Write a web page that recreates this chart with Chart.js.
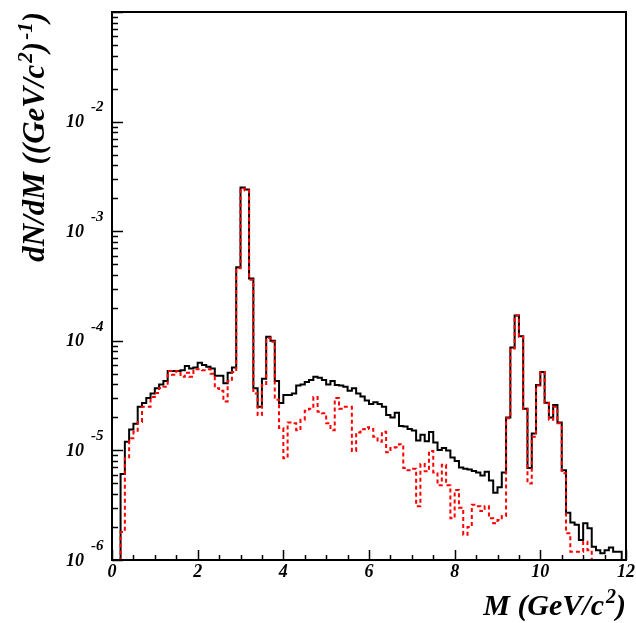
<!DOCTYPE html>
<html>
<head>
<meta charset="utf-8">
<script src="https://cdn.jsdelivr.net/npm/chart.js@4"></script>
<style>
  html, body { margin: 0; padding: 0; background: #fff; }
  #mass-chart { display: block; }
</style>
</head>
<body>
<canvas id="mass-chart" width="636" height="623"></canvas>
<script>
// histogram binning (GeV/c^2)
const M_MIN = 0;
const M_MAX = 12;
const BIN_WIDTH = 0.1;

// axis ranges and labels
const Y_MIN = 1e-6;
const Y_MAX = 1e-1;
const X_TICK_LABELS = [0, 2, 4, 6, 8, 10, 12];
const Y_DECADES = [-6, -5, -4, -3, -2];

// dN/dM per bin, solid black histogram
const totalCounts = [
  0, 0, 6.1e-6, 1.2e-5, 1.55e-5, 1.75e-5, 2.5e-5, 2.7e-5, 3.0e-5, 3.3e-5,
  3.7e-5, 4.0e-5, 4.3e-5, 5.3e-5, 5.3e-5, 5.3e-5, 5.4e-5, 5.9e-5, 5.6e-5, 5.7e-5,
  6.3e-5, 6.0e-5, 5.8e-5, 5.6e-5, 4.8e-5, 4.8e-5, 4.1e-5, 5.1e-5, 5.7e-5, 4.7e-4,
  2.5e-3, 2.4e-3, 3.7e-4, 3.7e-5, 2.5e-5, 4.5e-5, 1.09e-4, 1.0e-4, 4.3e-5, 2.7e-5,
  3.2e-5, 3.2e-5, 3.3e-5, 3.9e-5, 4.0e-5, 4.2e-5, 4.4e-5, 4.7e-5, 4.6e-5, 4.4e-5,
  4.0e-5, 4.3e-5, 3.95e-5, 3.9e-5, 3.8e-5, 3.5e-5, 3.7e-5, 3.3e-5, 3.1e-5, 2.85e-5,
  2.65e-5, 2.75e-5, 2.65e-5, 2.5e-5, 2.1e-5, 2.0e-5, 2.2e-5, 1.67e-5, 1.65e-5, 1.57e-5,
  1.52e-5, 1.23e-5, 1.39e-5, 1.21e-5, 1.47e-5, 1.18e-5, 1.01e-5, 1.05e-5, 1.0e-5, 8.6e-6,
  8.0e-6, 7.0e-6, 6.8e-6, 6.7e-6, 6.5e-6, 6.3e-6, 5.9e-6, 6.4e-6, 5.3e-6, 4.1e-6,
  4.6e-6, 6.3e-6, 2.0e-5, 8.7e-5, 1.7e-4, 1.1e-4, 2.4e-5, 6.9e-6, 1.43e-5, 3.95e-5,
  5.2e-5, 2.72e-5, 2.0e-5, 2.6e-5, 1.8e-5, 6.6e-6, 2.7e-6, 2.2e-6, 2.1e-6, 1.52e-6,
  2.16e-6, 1.95e-6, 1.32e-6, 1.23e-6, 1.15e-6, 1.23e-6, 1.3e-6, 1.19e-6, 1.19e-6, 0
];

// dN/dM per bin, dashed red histogram
const subsetCounts = [
  0, 0, 1.8e-6, 8.5e-6, 1.29e-5, 1.48e-5, 1.82e-5, 2.5e-5, 2.5e-5, 3.07e-5,
  3.34e-5, 3.71e-5, 3.81e-5, 5.3e-5, 4.9e-5, 5.3e-5, 4.7e-5, 5.1e-5, 4.7e-5, 5.5e-5,
  5.5e-5, 5.4e-5, 5.5e-5, 5.0e-5, 3.7e-5, 3.5e-5, 2.8e-5, 4.3e-5, 5.2e-5, 4.6e-4,
  2.45e-3, 2.35e-3, 3.6e-4, 3.3e-5, 2.1e-5, 3.95e-5, 1.06e-4, 9.8e-5, 2.9e-5, 1.6e-5,
  8.5e-6, 1.8e-5, 1.77e-5, 1.53e-5, 1.9e-5, 2.3e-5, 2.4e-5, 3.07e-5, 2.25e-5, 2.18e-5,
  1.77e-5, 1.53e-5, 3.0e-5, 2.4e-5, 2.5e-5, 2.5e-5, 9.9e-6, 1.46e-5, 1.56e-5, 1.63e-5,
  1.57e-5, 1.33e-5, 1.2e-5, 1.48e-5, 9.6e-6, 1.05e-5, 1.07e-5, 1.14e-5, 6.9e-6, 6.6e-6,
  6.8e-6, 3.1e-6, 7.5e-6, 6.45e-6, 9.9e-6, 6.3e-6, 4.8e-6, 7.4e-6, 4.8e-6, 2.4e-6,
  4.35e-6, 3.0e-6, 1.7e-6, 2.0e-6, 3.2e-6, 3.1e-6, 2.8e-6, 3.1e-6, 2.4e-6, 2.16e-6,
  2.32e-6, 2.52e-6, 1.96e-5, 8.5e-5, 1.7e-4, 1.09e-4, 2.4e-5, 5.0e-6, 1.33e-5, 3.9e-5,
  5.2e-5, 2.7e-5, 1.9e-5, 2.5e-5, 1.77e-5, 6.2e-6, 1.75e-6, 1.19e-6, 1.19e-6, 1.19e-6,
  1.47e-6, 1.23e-6, 0, 0, 0, 0, 0, 0, 0, 0
];

const SERIF = '"Liberation Serif", "DejaVu Serif", serif';

// one point per bin low edge plus a closing point at the upper edge;
// empty bins rest on the axis floor like ROOT draws them
function toSteps(counts) {
  const pts = counts.map((v, i) => ({ x: M_MIN + i * BIN_WIDTH, y: v > 0 ? v : Y_MIN }));
  pts.push({ x: M_MAX, y: pts[pts.length - 1].y });
  return pts;
}

// text with raised exponents, parts = [[text, isSup], ...]
function partsWidth(ctx, parts, size, supSize) {
  let w = 0;
  parts.forEach(([t, sup]) => {
    ctx.font = `italic bold ${sup ? supSize : size}px ${SERIF}`;
    w += ctx.measureText(t).width + (sup ? 2 : 0);
  });
  return w;
}

function drawParts(ctx, parts, x0, size, supSize, rise) {
  let x = x0;
  parts.forEach(([t, sup]) => {
    ctx.font = `italic bold ${sup ? supSize : size}px ${SERIF}`;
    ctx.fillText(t, x + (sup ? 2 : 0), sup ? -rise : 0);
    x += ctx.measureText(t).width + (sup ? 2 : 0);
  });
}

// ROOT style frame: inward ticks, 10^n labels, titles aligned to the axis ends
const rootFrame = {
  id: 'rootFrame',
  afterDatasetsDraw(chart) {
    const { ctx, chartArea: a, scales: { x, y } } = chart;
    ctx.save();
    ctx.strokeStyle = '#000';
    ctx.fillStyle = '#000';

    ctx.lineWidth = 2;
    ctx.strokeRect(a.left, a.top, a.right - a.left, a.bottom - a.top);

    ctx.lineWidth = 1.5;
    ctx.beginPath();
    for (let k = 0; k <= (M_MAX - M_MIN) * 2; k++) {
      const m = M_MIN + k * 0.5;
      const px = Math.round(x.getPixelForValue(m)) + 0.5;
      const len = k % 4 === 0 ? 10 : 5;
      ctx.moveTo(px, a.bottom);
      ctx.lineTo(px, a.bottom - len);
    }
    Y_DECADES.concat([-1]).forEach(e => {
      for (let k = 1; k <= 9; k++) {
        const v = k * Math.pow(10, e);
        if (v > Y_MAX * 1.0001) break;
        const py = Math.round(y.getPixelForValue(v)) + 0.5;
        ctx.moveTo(a.left, py);
        ctx.lineTo(a.left + (k === 1 ? 11 : 6), py);
      }
    });
    ctx.stroke();

    // x tick labels
    ctx.font = `italic bold 18px ${SERIF}`;
    ctx.textAlign = 'center';
    ctx.textBaseline = 'top';
    X_TICK_LABELS.forEach(m => {
      ctx.fillText(String(m), x.getPixelForValue(m), a.bottom + 3);
    });

    // y tick labels
    ctx.textBaseline = 'middle';
    Y_DECADES.forEach(e => {
      const py = y.getPixelForValue(Math.pow(10, e));
      ctx.font = `italic bold 18px ${SERIF}`;
      ctx.textAlign = 'right';
      ctx.fillText('10', 84, py + 1);
      ctx.font = `italic bold 15px ${SERIF}`;
      ctx.textAlign = 'left';
      ctx.fillText(String(e), 91, py - 14);
    });

    // axis titles
    ctx.textAlign = 'left';
    ctx.textBaseline = 'alphabetic';
    const xTitle = [['M (GeV/c', false], ['2', true], [')', false]];
    const xw = partsWidth(ctx, xTitle, 30, 20);
    ctx.save();
    ctx.translate(a.right - xw, 615);
    drawParts(ctx, xTitle, 0, 30, 20, 12);
    ctx.restore();

    const yTitle = [['dN/dM ((GeV/c', false], ['2', true], [')', false], ['-1', true], [')', false]];
    const yw = partsWidth(ctx, yTitle, 31, 21);
    ctx.save();
    ctx.translate(44, a.top + yw);
    ctx.rotate(-Math.PI / 2);
    drawParts(ctx, yTitle, 0, 31, 21, 12);
    ctx.restore();

    ctx.restore();
  }
};

new Chart(document.getElementById('mass-chart'), {
  type: 'line',
  data: {
    datasets: [
      {
        label: 'subset',
        data: toSteps(subsetCounts),
        borderColor: '#ff0000',
        borderWidth: 2,
        borderDash: [4, 3],
        stepped: true,
        pointRadius: 0,
        fill: false,
        order: 0
      },
      {
        label: 'all',
        data: toSteps(totalCounts),
        borderColor: '#000000',
        borderWidth: 2,
        stepped: true,
        pointRadius: 0,
        fill: false,
        order: 1
      }
    ]
  },
  options: {
    responsive: false,
    animation: false,
    devicePixelRatio: 1,
    layout: { padding: { left: 112, right: 10, top: 12, bottom: 63 } },
    plugins: { legend: { display: false }, tooltip: { enabled: false } },
    scales: {
      x: { type: 'linear', min: M_MIN, max: M_MAX, display: false },
      y: { type: 'logarithmic', min: Y_MIN, max: Y_MAX, display: false }
    }
  },
  plugins: [rootFrame]
});
</script>
</body>
</html>
